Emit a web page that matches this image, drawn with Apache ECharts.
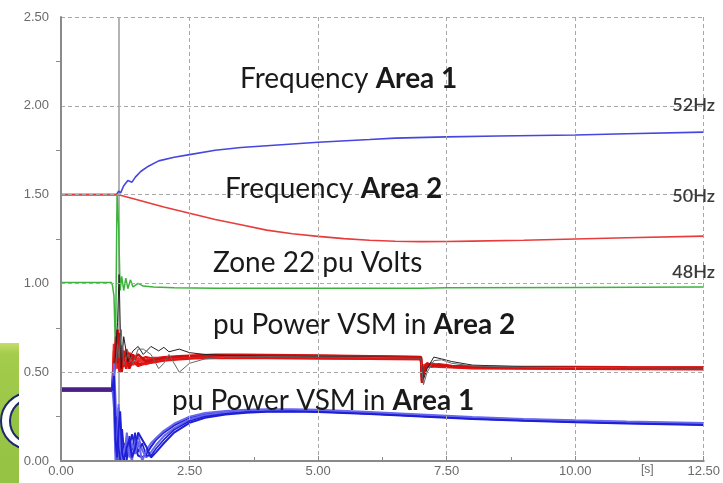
<!DOCTYPE html>
<html>
<head>
<meta charset="utf-8">
<script src="https://cdn.jsdelivr.net/npm/echarts@6/dist/echarts.min.js"></script>
<style>
  html, body { margin: 0; padding: 0; background: #ffffff; }
  #chart { width: 723px; height: 483px; }
</style>
</head>
<body>
<div id="chart"></div>
<script>
// ---- axis ticks ----
const xTicks = [0, 2.5, 5, 7.5, 10, 12.5];
const yTicks = [0, 0.5, 1.0, 1.5, 2.0, 2.5];
const eventTime = 1.13;   // disturbance marker
const faultTime = 1.0;    // end of pre-disturbance operating point

// ---- Frequency Area 1 (upper curve, scaled) ----
const timeFreqA1 = [0, 1.0, 1.08, 1.12, 1.16, 1.22, 1.3, 1.38, 1.45, 1.55, 1.7, 1.9, 2.2, 2.5, 3.0, 3.5, 4.0, 5.0, 6.0, 6.5, 7.5, 8.5, 10.0, 11.0, 12.5];
const freqArea1   = [1.50, 1.50, 1.50, 1.52, 1.51, 1.55, 1.58, 1.57, 1.60, 1.63, 1.66, 1.69, 1.71, 1.725, 1.75, 1.765, 1.775, 1.795, 1.81, 1.818, 1.825, 1.83, 1.836, 1.843, 1.852];

// ---- Frequency Area 2 ----
const timeFreqA2 = [0, 1.1, 1.5, 2.0, 2.5, 3.0, 3.5, 4.0, 4.5, 5.0, 5.5, 6.0, 6.5, 7.0, 7.5, 8.0, 9.0, 10.0, 11.0, 12.5];
const freqArea2   = [1.50, 1.50, 1.47, 1.43, 1.395, 1.36, 1.33, 1.30, 1.28, 1.265, 1.252, 1.243, 1.237, 1.235, 1.236, 1.238, 1.243, 1.25, 1.257, 1.266];

// ---- Zone 22 pu Volts ----
const timeVolts = [0, 0.98, 1.0, 1.03, 1.06, 1.09, 1.12, 1.15, 1.18, 1.22, 1.26, 1.3, 1.35, 1.4, 1.5, 1.6, 1.8, 2.2, 3.0, 5.0, 7.0, 7.5, 10.0, 12.5];
const zoneVolts = [1.005, 1.005, 0.99, 0.93, 0.62, 1.5, 1.33, 0.96, 1.04, 0.96, 1.03, 0.97, 1.02, 0.98, 1.0, 0.985, 0.98, 0.975, 0.972, 0.972, 0.973, 0.975, 0.977, 0.98];

// ---- pu Power VSM in Area 2 (individual units) ----
const timePowerA2 = [0, 1.0, 1.03, 1.07, 1.1, 1.14, 1.18, 1.22, 1.27, 1.33, 1.4, 1.5, 1.65, 1.8, 2.0, 2.3, 2.6, 3.0, 3.5, 4.0, 5.0, 6.0, 7.0, 7.02, 7.06, 7.12, 7.2, 7.35, 7.6, 8.0, 9.0, 10.0, 11.0, 12.5];
const powerA2u1 = [0.40, 0.40, 0.62, 0.56, 0.70, 0.54, 0.62, 0.55, 0.60, 0.56, 0.59, 0.57, 0.585, 0.575, 0.585, 0.59, 0.595, 0.598, 0.598, 0.597, 0.594, 0.59, 0.586, 0.47, 0.51, 0.55, 0.54, 0.545, 0.535, 0.532, 0.53, 0.529, 0.528, 0.527];
const powerA2u2 = [0.40, 0.40, 0.58, 0.66, 0.52, 0.63, 0.53, 0.60, 0.54, 0.58, 0.55, 0.56, 0.57, 0.58, 0.58, 0.585, 0.59, 0.592, 0.592, 0.59, 0.588, 0.585, 0.581, 0.50, 0.53, 0.535, 0.55, 0.54, 0.532, 0.528, 0.527, 0.526, 0.525, 0.524];
const powerA2u3 = [0.40, 0.40, 0.50, 0.60, 0.74, 0.58, 0.52, 0.62, 0.57, 0.535, 0.60, 0.545, 0.555, 0.565, 0.575, 0.58, 0.582, 0.584, 0.584, 0.583, 0.581, 0.578, 0.575, 0.45, 0.50, 0.53, 0.535, 0.53, 0.528, 0.522, 0.52, 0.519, 0.518, 0.517];
const powerA2u4 = [0.40, 0.40, 0.66, 0.52, 0.60, 0.68, 0.56, 0.53, 0.63, 0.59, 0.54, 0.58, 0.545, 0.56, 0.57, 0.578, 0.586, 0.59, 0.592, 0.591, 0.589, 0.586, 0.582, 0.52, 0.54, 0.545, 0.53, 0.535, 0.53, 0.527, 0.525, 0.524, 0.523, 0.522];
const powerA2u5 = [0.40, 0.40, 0.55, 0.70, 0.58, 0.50, 0.65, 0.57, 0.52, 0.61, 0.56, 0.535, 0.55, 0.555, 0.565, 0.572, 0.578, 0.58, 0.58, 0.579, 0.577, 0.575, 0.572, 0.49, 0.525, 0.54, 0.545, 0.535, 0.53, 0.526, 0.524, 0.523, 0.522, 0.521];
const powerA2u6 = [0.40, 0.40, 0.52, 0.64, 0.55, 0.72, 0.50, 0.58, 0.61, 0.52, 0.57, 0.60, 0.56, 0.57, 0.58, 0.588, 0.592, 0.595, 0.595, 0.594, 0.592, 0.588, 0.584, 0.44, 0.52, 0.55, 0.535, 0.54, 0.534, 0.53, 0.528, 0.527, 0.526, 0.525];

// units with larger swings
const timePowerA2b = [0, 1.0, 1.05, 1.1, 1.13, 1.17, 1.22, 1.3, 1.4, 1.5, 1.6, 1.75, 1.9, 2.0, 2.1, 2.3, 2.5, 2.8, 3.2, 4.0, 5.0, 6.0, 7.0, 7.05, 7.12, 7.25, 7.4, 7.6, 8.0, 9.0, 10.0, 12.5];
const powerA2b1 = [0.40, 0.40, 0.55, 0.78, 1.05, 0.52, 0.70, 0.56, 0.62, 0.645, 0.60, 0.645, 0.62, 0.64, 0.615, 0.63, 0.61, 0.60, 0.595, 0.59, 0.588, 0.585, 0.582, 0.46, 0.52, 0.585, 0.575, 0.56, 0.54, 0.53, 0.527, 0.525];
const powerA2b2 = [0.40, 0.40, 0.50, 0.66, 0.58, 0.74, 0.54, 0.60, 0.55, 0.63, 0.63, 0.60, 0.52, 0.55, 0.60, 0.50, 0.55, 0.575, 0.585, 0.588, 0.586, 0.583, 0.58, 0.43, 0.50, 0.565, 0.57, 0.55, 0.535, 0.528, 0.526, 0.524];

// ---- pu Power VSM in Area 1 (individual units) ----
const timePowerA1 = [0, 1.0, 1.03, 1.06, 1.09, 1.12, 1.15, 1.19, 1.23, 1.28, 1.33, 1.38, 1.44, 1.5, 1.58, 1.66, 1.75, 1.85, 2.0, 2.2, 2.5, 2.8, 3.2, 3.6, 4.0, 4.5, 5.0, 6.0, 7.0, 8.0, 9.0, 10.0, 11.0, 12.5];
const powerA1u1 = [0.40, 0.40, 0.42, 0.20, 0.00, 0.30, 0.05, 0.00, 0.10, 0.02, 0.08, 0.15, 0.08, 0.03, 0.02, 0.04, 0.08, 0.12, 0.16, 0.20, 0.245, 0.265, 0.278, 0.284, 0.287, 0.287, 0.284, 0.272, 0.258, 0.244, 0.233, 0.225, 0.218, 0.21];
const powerA1u2 = [0.395, 0.395, 0.55, 0.35, 0.10, 0.00, 0.22, 0.12, 0.02, 0.16, 0.05, 0.00, 0.12, 0.14, 0.06, 0.02, 0.05, 0.09, 0.14, 0.185, 0.235, 0.258, 0.272, 0.279, 0.282, 0.283, 0.28, 0.268, 0.254, 0.24, 0.23, 0.222, 0.215, 0.207];
const powerA1u3 = [0.405, 0.405, 0.36, 0.05, 0.25, 0.08, 0.00, 0.18, 0.05, 0.00, 0.14, 0.06, 0.16, 0.05, 0.10, 0.03, 0.03, 0.07, 0.12, 0.175, 0.225, 0.25, 0.266, 0.275, 0.279, 0.28, 0.277, 0.266, 0.252, 0.238, 0.228, 0.22, 0.213, 0.205];
const powerA1u4 = [0.41, 0.41, 0.30, 0.00, 0.15, 0.32, 0.10, 0.00, 0.06, 0.12, 0.02, 0.10, 0.04, 0.11, 0.00, 0.06, 0.10, 0.13, 0.17, 0.21, 0.25, 0.27, 0.282, 0.288, 0.291, 0.291, 0.288, 0.276, 0.262, 0.248, 0.237, 0.229, 0.222, 0.214];
const powerA1u5 = [0.40, 0.40, 0.48, 0.12, 0.02, 0.18, 0.28, 0.04, 0.00, 0.08, 0.12, 0.02, 0.07, 0.16, 0.12, 0.08, 0.02, 0.05, 0.10, 0.16, 0.215, 0.243, 0.262, 0.272, 0.277, 0.279, 0.276, 0.265, 0.25, 0.236, 0.226, 0.218, 0.211, 0.203];

// ---------------------------------------------------------------
const pairs = (t, v) => t.map((x, i) => [x, v[i]]);

// color === null leaves the stroke colour to the visualMap
function line(name, t, v, color, width, extra) {
  const s = {
    name: name,
    type: 'line',
    data: pairs(t, v),
    showSymbol: false,
    symbol: 'none',
    silent: true,
    animation: false,
    lineStyle: { width: width },
    z: 3
  };
  if (color) {
    s.lineStyle.color = color;
    s.itemStyle = { color: color };
  }
  return Object.assign(s, extra || {});
}

const series = [
  line('Frequency Area 1', timeFreqA1, freqArea1, '#4646e0', 1.6, {
    markLine: {
      silent: true, symbol: 'none', label: { show: false },
      lineStyle: { color: '#b4b4b4', type: 'solid', width: 2 },
      data: [{ xAxis: eventTime }],
      z: 1
    }
  }),
  line('Frequency Area 2', timeFreqA2, freqArea2, '#e83c3c', 1.6),
  line('Zone 22 pu Volts', timeVolts, zoneVolts, '#3db33d', 1.5),
  line('Power A2 1', timePowerA2, powerA2u1, '#e01010', 2.4),
  line('Power A2 2', timePowerA2, powerA2u2, '#f02020', 2.4),
  line('Power A2 3', timePowerA2, powerA2u3, '#d80808', 2.4),
  line('Power A2 4', timePowerA2, powerA2u4, '#f03030', 2.4),
  line('Power A2 5', timePowerA2, powerA2u5, '#e41414', 2.4),
  line('Power A2 6', timePowerA2, powerA2u6, '#cc1010', 2.4),
  line('Power A2 b1', timePowerA2b, powerA2b1, '#222222', 1),
  line('Power A2 b2', timePowerA2b, powerA2b2, '#666666', 1),
  line('Power A1 1', timePowerA1, powerA1u1, null, 2),
  line('Power A1 2', timePowerA1, powerA1u2, null, 2),
  line('Power A1 3', timePowerA1, powerA1u3, null, 1.6),
  line('Power A1 4', timePowerA1, powerA1u4, null, 2),
  line('Power A1 5', timePowerA1, powerA1u5, null, 2)
];

const chart = echarts.init(document.getElementById('chart'), null, { renderer: 'canvas' });

const tickText = v => v.toFixed(2);
const xMax = xTicks[xTicks.length - 1];

const labelFont = { fontFamily: 'Lato', fontSize: 28, fill: '#1a1a1a' };
const labelFontBold = { fontFamily: 'Lato', fontSize: 28, fontWeight: 'bold', fill: '#1a1a1a' };

const option = {
  backgroundColor: '#ffffff',
  animation: false,
  grid: { left: 61, right: 10, top: 17, bottom: 22, containLabel: false },
  xAxis: {
    type: 'value',
    min: xTicks[0], max: xMax, interval: xTicks[1] - xTicks[0],
    z: 6,
    axisLine: { show: true, onZero: false, lineStyle: { color: '#8a8a8a', width: 2 } },
    axisTick: { show: true, inside: true, length: 5, lineStyle: { color: '#8a8a8a' } },
    minorTick: { show: true, splitNumber: 2, length: 4, lineStyle: { color: '#8a8a8a' } },
    splitLine: { show: true, lineStyle: { color: '#a8a8a8', type: [4, 3], width: 1 } },
    axisLabel: { color: '#6a6a6a', fontFamily: 'Liberation Sans', fontSize: 13, margin: 4, formatter: tickText, showMaxLabel: true, hideOverlap: false }
  },
  yAxis: {
    type: 'value',
    min: yTicks[0], max: yTicks[yTicks.length - 1], interval: yTicks[1] - yTicks[0],
    z: 6,
    axisLine: { show: true, onZero: false, lineStyle: { color: '#8a8a8a', width: 2 } },
    axisTick: { show: false },
    minorTick: { show: true, splitNumber: 2, length: 5, lineStyle: { color: '#8a8a8a' } },
    splitLine: { show: true, lineStyle: { color: '#a8a8a8', type: [4, 3], width: 1 } },
    axisLabel: { color: '#6a6a6a', fontFamily: 'Liberation Sans', fontSize: 13, margin: 12, formatter: tickText }
  },
  // pre-disturbance segment of the Area 1 units drawn in the mixed (overlapping) colour
  visualMap: [
    {
      type: 'piecewise', show: false, dimension: 0,
      seriesIndex: [11, 13, 15],
      pieces: [
        { gte: -1, lt: faultTime, color: '#4a1f88' },
        { gte: faultTime, lte: xMax + 1, color: '#1f1fd6' }
      ]
    },
    {
      type: 'piecewise', show: false, dimension: 0,
      seriesIndex: [12, 14],
      pieces: [
        { gte: -1, lt: faultTime, color: '#4a1f88' },
        { gte: faultTime, lte: xMax + 1, color: '#6868ee' }
      ]
    }
  ],
  graphic: [
    // slide backdrop peeking out at the lower left
    {
      type: 'rect', z: 0, silent: true,
      shape: { x: 0, y: 343, width: 19, height: 140 },
      style: {
        fill: new echarts.graphic.LinearGradient(0, 0, 0, 1, [
          { offset: 0, color: '#c4dd6a' },
          { offset: 0.08, color: '#a3cb4c' },
          { offset: 1, color: '#94c243' }
        ])
      }
    },
    {
      type: 'ellipse', z: 1, silent: true,
      shape: { cx: 29, cy: 421, rx: 28, ry: 28 },
      style: { fill: '#ffffff', stroke: '#1b2a68', lineWidth: 2 }
    },
    {
      type: 'ellipse', z: 2, silent: true,
      shape: { cx: 31, cy: 421, rx: 21, ry: 22 },
      style: { fill: '#94c243', stroke: '#1b2a68', lineWidth: 2 }
    },
    {
      type: 'rect', z: 3, silent: true,
      shape: { x: 19, y: 330, width: 41, height: 153 },
      style: { fill: '#ffffff' }
    },
    // annotations
    {
      type: 'text', z: 10, silent: true, left: 240, top: 65,
      style: { text: '{r|Frequency }{b|Area 1}', rich: { r: labelFont, b: labelFontBold } }
    },
    {
      type: 'text', z: 10, silent: true, left: 225, top: 175,
      style: { text: '{r|Frequency }{b|Area 2}', rich: { r: labelFont, b: labelFontBold } }
    },
    {
      type: 'text', z: 10, silent: true, left: 213, top: 249,
      style: { text: 'Zone 22 pu Volts', font: '28px Lato', fill: '#1a1a1a' }
    },
    {
      type: 'text', z: 10, silent: true, left: 213, top: 311,
      style: { text: '{r|pu Power VSM in }{b|Area 2}', rich: { r: labelFont, b: labelFontBold } }
    },
    {
      type: 'text', z: 10, silent: true, left: 172, top: 387,
      style: { text: '{r|pu Power VSM in }{b|Area 1}', rich: { r: labelFont, b: labelFontBold } }
    },
    { type: 'text', z: 10, silent: true, right: 8, top: 96, style: { text: '52Hz', font: '600 18px Lato', fill: '#3a3a3a' } },
    { type: 'text', z: 10, silent: true, right: 8, top: 187, style: { text: '50Hz', font: '600 18px Lato', fill: '#3a3a3a' } },
    { type: 'text', z: 10, silent: true, right: 8, top: 263, style: { text: '48Hz', font: '600 18px Lato', fill: '#3a3a3a' } },
    { type: 'text', z: 10, silent: true, left: 641, top: 464, style: { text: '[s]', font: '12px Liberation Sans', fill: '#6a6a6a' } }
  ],
  series: series
};

chart.setOption(option);
</script>
</body>
</html>
